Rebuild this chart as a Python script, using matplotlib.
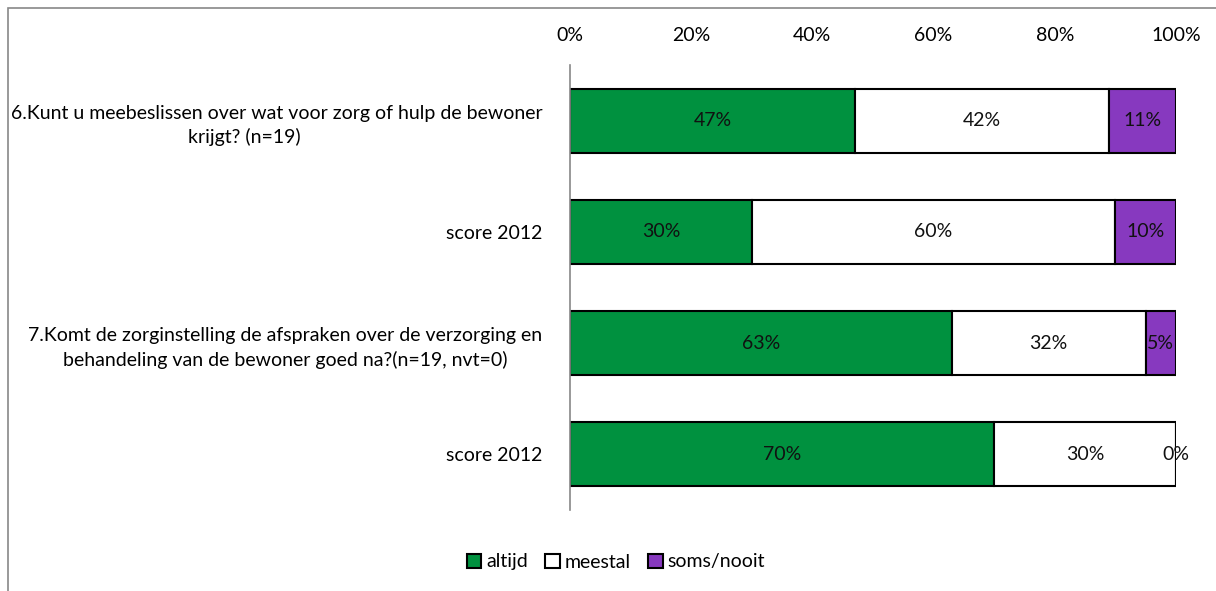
import numpy as np
import matplotlib.pyplot as plt
from matplotlib.patches import Rectangle

plt.rcParams['font.family'] = ['Lato', 'DejaVu Sans']

questions = [
    "6.Kunt u meebeslissen over wat voor zorg of hulp de bewoner\nkrijgt? (n=19)" + " " * 13,
    "score 2012",
    "7.Komt de zorginstelling de afspraken over de verzorging en\nbehandeling van de bewoner goed na?(n=19, nvt=0)",
    "score 2012",
]
altijd = [47, 30, 63, 70]
meestal = [42, 60, 32, 30]
soms_nooit = [11, 10, 5, 0]
series = ['altijd', 'meestal', 'soms/nooit']
colors = ['#00913F', '#FFFFFF', '#8739BF']

fs = 14

fig = plt.figure(figsize=(12.16, 5.91), dpi=100)
ax = fig.add_axes([570 / 1216, 1 - 510 / 591, (1176 - 570) / 1216, (510 - 65) / 591])

# outer frame like the Excel chart area
fig.patches.append(Rectangle((8 / 1216, -0.1), 1.2, 1 - 8 / 591 + 0.1,
                             transform=fig.transFigure, fill=False,
                             edgecolor='#888888', linewidth=1.2))

y = np.arange(len(questions))
left = np.zeros(len(questions))
for vals, name, col in zip([altijd, meestal, soms_nooit], series, colors):
    vals = np.array(vals, dtype=float)
    ax.barh(y, vals, left=left, height=0.575, color=col, edgecolor='black',
            linewidth=1.5, label=name)
    for yi, (l, v) in enumerate(zip(left, vals)):
        ax.text(l + v / 2, yi, f"{int(v)}%", ha='center', va='center',
                fontsize=fs, color='#111111')
    left += vals

ax.set_xlim(0, 100)
ax.set_ylim(3.5, -0.5)
ax.set_yticks(y)
ax.set_yticklabels(questions, fontsize=fs, multialignment='center', linespacing=1.45)
ax.set_xticks(np.arange(0, 101, 20))
ax.set_xticklabels([f"{t}%" for t in range(0, 101, 20)], fontsize=fs)
ax.xaxis.tick_top()
ax.tick_params(axis='x', length=0, pad=15)
ax.tick_params(axis='y', length=0, pad=20)
for s in ['top', 'right', 'bottom']:
    ax.spines[s].set_visible(False)
ax.spines['left'].set_color('#888888')
ax.spines['left'].set_linewidth(1.2)

handles, labels = ax.get_legend_handles_labels()
fig.legend(handles, labels, loc='center', bbox_to_anchor=(616 / 1216, 1 - 562 / 591),
           ncol=3, frameon=False, fontsize=fs, handlelength=0.75, handleheight=0.75,
           handletextpad=0.25, columnspacing=0.9)

fig.savefig('out.png', dpi=100)
